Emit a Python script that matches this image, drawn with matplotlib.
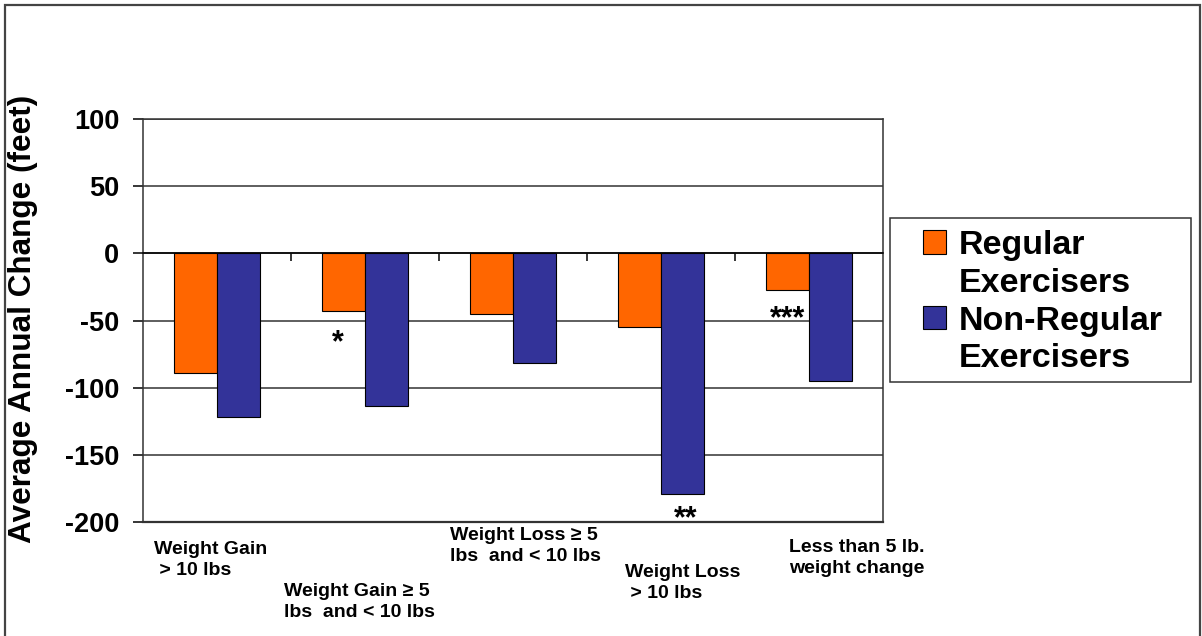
import numpy as np
import matplotlib.pyplot as plt
from matplotlib.patches import Patch, Rectangle

# --- dati ---
categorie = ["Weight Gain\n > 10 lbs",
             "Weight Gain \u2265 5\nlbs  and < 10 lbs",
             "Weight Loss \u2265 5\nlbs  and < 10 lbs",
             "Weight Loss\n > 10 lbs",
             "Less than 5 lb.\nweight change"]
regolari = [-89, -43, -45, -55, -27]
non_regolari = [-122, -114, -82, -179, -95]
serie_nomi = ["Regular", "Exercisers", "Non-Regular", "Exercisers"]

# asterischi: (categoria, serie, testo)
stelle_cat = [1, 3, 4]
stelle_serie = [0, 1, 0]
stelle_txt = ["*", "**", "***"]
stelle_y = [-73, -204, -55]
stelle_dx = [-0.04, 0.02, 0.0]

# posizioni etichette (offset x dalla categoria, y in frazione assi)
etich_dx = [-0.426, -0.549, -0.429, -0.241, -0.134]
etich_y = [-0.047, -0.151, -0.012, -0.104, -0.042]

ARANCIO = "#FF6600"
BLU = "#333399"
plt.rcParams['font.family'] = ['Liberation Sans', 'DejaVu Sans']
plt.rcParams['axes.unicode_minus'] = False

fig = plt.figure(figsize=(12.02, 6.36), dpi=100)
ax = fig.add_axes([143 / 1202, 1 - 522 / 636, (883 - 143) / 1202, (522 - 119) / 636])

x = np.arange(len(categorie))
w = 0.29
ax.bar(x - w / 2, regolari, w, color=ARANCIO, edgecolor='black', linewidth=0.8, zorder=3)
ax.bar(x + w / 2, non_regolari, w, color=BLU, edgecolor='black', linewidth=0.8, zorder=3)

ax.set_xlim(-0.5, len(categorie) - 0.5)
ax.set_ylim(-200, 100)
ax.set_yticks(np.arange(-200, 101, 50))
ax.tick_params(axis='y', direction='out', length=7, width=1.1, pad=10, labelsize=19.5)
for t in ax.get_yticklabels():
    t.set_fontweight('bold')
ax.yaxis.grid(True, color='#333333', linewidth=1.1, zorder=0)
ax.set_axisbelow(True)

# asse x sullo zero con tacche tra le categorie
ax.spines['bottom'].set_position(('data', 0))
ax.spines['bottom'].set_linewidth(1.1)
ax.set_xticks(x[:-1] + 0.5)
ax.set_xticklabels([])
ax.tick_params(axis='x', direction='out', length=6, width=1.1)
ax.axhline(-200, color='#333333', linewidth=1.6, clip_on=False, zorder=4)
for s in ['left', 'right', 'top']:
    ax.spines[s].set_linewidth(1.1)
    ax.spines[s].set_color('#333333')

ax.set_ylabel("Average Annual Change (feet)", fontsize=22.7, fontweight='bold')
ax.yaxis.set_label_coords(-0.142, 0.505)

# etichette categorie sfalsate
for i, lab in enumerate(categorie):
    ax.text(i + etich_dx[i], etich_y[i], lab, transform=ax.get_xaxis_transform(),
            ha='left', va='top', fontsize=14, fontweight='bold', linespacing=1.35)

# asterischi
for c, s, t, y, dx in zip(stelle_cat, stelle_serie, stelle_txt, stelle_y, stelle_dx):
    xs = c - w / 2 if s == 0 else c + w / 2
    ax.text(xs + dx, y, t, ha='center', va='baseline', fontsize=22, fontweight='bold')

# legenda
handles = [Patch(facecolor=ARANCIO, edgecolor='black', linewidth=0.8),
           Patch(facecolor='none', edgecolor='none'),
           Patch(facecolor=BLU, edgecolor='black', linewidth=0.8),
           Patch(facecolor='none', edgecolor='none')]
fig.legend(handles, serie_nomi, loc='upper left', bbox_to_anchor=(923 / 1202, 1 - 230 / 636),
           frameon=False, borderpad=0, borderaxespad=0, handlelength=0.68, handleheight=0.68,
           handletextpad=0.37, labelspacing=0.2, prop={'size': 24.5, 'weight': 'bold'})
fig.add_artist(Rectangle((890 / 1202, 1 - 382 / 636), (1191 - 890) / 1202, (382 - 218) / 636,
                         transform=fig.transFigure, fill=False, edgecolor='#333333', linewidth=1.1))

# cornice esterna
fig.add_artist(Rectangle((5 / 1202, -0.1), (1200 - 5) / 1202, 1.1 - 4.5 / 636,
                         transform=fig.transFigure, fill=False, edgecolor='#444444', linewidth=1.6))

fig.savefig("out.png", dpi=100)
